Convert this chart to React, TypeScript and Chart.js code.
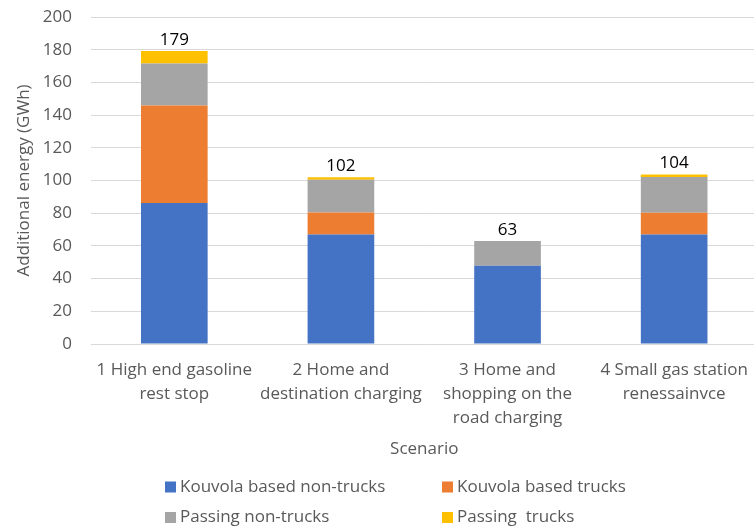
import React, { useEffect, useRef } from "react";
import { Chart, registerables } from "chart.js";

Chart.register(...registerables);

const categories: string[][] = [
  ["1 High end gasoline", "rest stop"],
  ["2 Home and", "destination charging"],
  ["3 Home and", "shopping on the", "road charging"],
  ["4 Small gas station", "renessainvce"],
];

const kouvolaNonTrucks = [86.3, 67.0, 47.8, 67.0];
const kouvolaTrucks = [59.5, 13.5, 0, 13.3];
const passingNonTrucks = [25.7, 19.9, 15.2, 21.8];
const passingTrucks = [7.7, 1.6, 0, 1.6];

const seriesNames = [
  "Kouvola based non-trucks",
  "Kouvola based trucks",
  "Passing non-trucks",
  "Passing  trucks",
];
const seriesColors = ["#4472C4", "#ED7D31", "#A5A5A5", "#FFC000"];

const yTitle = "Additional energy (GWh)";
const xTitle = "Scenario";

const FONT = "'Open Sans', 'Noto Sans', sans-serif";
const FONT_SIZE = 17;
const TEXT_GREY = "#595959";

const totalsPlugin = {
  id: "totals",
  afterDatasetsDraw(chart: any) {
    const { ctx } = chart;
    const x = chart.scales.x;
    const y = chart.scales.y;
    const n = chart.data.labels.length;
    ctx.save();
    ctx.font = `${FONT_SIZE}px ${FONT}`;
    ctx.fillStyle = "#000000";
    ctx.textAlign = "center";
    ctx.textBaseline = "alphabetic";
    for (let i = 0; i < n; i++) {
      let total = 0;
      chart.data.datasets.forEach((d: any) => (total += d.data[i]));
      const px = x.getPixelForTick(i);
      const py = y.getPixelForValue(total);
      ctx.fillText(String(Math.round(total)), px, py - 6);
    }
    ctx.restore();
  },
};

const legendPlugin = {
  id: "gridLegend",
  afterDraw(chart: any) {
    const { ctx } = chart;
    const ds = chart.data.datasets;
    const colX = [165, 442];
    const rowY = [chart.height - 45, chart.height - 14.5];
    const box = 11;
    ctx.save();
    ctx.font = `${FONT_SIZE}px ${FONT}`;
    ctx.textBaseline = "middle";
    ctx.textAlign = "left";
    ds.forEach((d: any, i: number) => {
      const cx = colX[i % 2];
      const cy = rowY[Math.floor(i / 2)];
      ctx.fillStyle = d.backgroundColor;
      ctx.fillRect(cx, cy - box / 2, box, box);
      ctx.fillStyle = TEXT_GREY;
      ctx.fillText(d.label, cx + box + 4, cy);
    });
    ctx.restore();
  },
};

export default function App() {
  const ref = useRef<HTMLCanvasElement | null>(null);

  useEffect(() => {
    if (!ref.current) return;
    const series = [kouvolaNonTrucks, kouvolaTrucks, passingNonTrucks, passingTrucks];
    const chart = new Chart(ref.current, {
      type: "bar",
      data: {
        labels: categories,
        datasets: series.map((data, i) => ({
          label: seriesNames[i],
          data,
          backgroundColor: seriesColors[i],
          borderWidth: 0,
          categoryPercentage: 1,
          barPercentage: 0.4,
        })),
      },
      options: {
        responsive: false,
        animation: false,
        devicePixelRatio: 1,
        layout: { padding: { top: 17, right: 1, left: 0, bottom: 0 } },
        plugins: {
          legend: { display: false },
          tooltip: { enabled: false },
        },
        scales: {
          x: {
            stacked: true,
            grid: { display: false, drawTicks: false },
            border: { display: false },
            ticks: {
              color: TEXT_GREY,
              font: { family: FONT, size: FONT_SIZE, lineHeight: 1.42 },
              padding: 14,
              maxRotation: 0,
              autoSkip: false,
            },
            title: {
              display: true,
              text: xTitle,
              color: TEXT_GREY,
              font: { family: FONT, size: FONT_SIZE, lineHeight: 1.25 },
              padding: { top: 0, bottom: 72 },
            },
            afterFit: (s: any) => {
              s.height = 188;
            },
          },
          y: {
            stacked: true,
            min: 0,
            max: 200,
            ticks: {
              stepSize: 20,
              color: TEXT_GREY,
              font: { family: FONT, size: FONT_SIZE },
              padding: 19,
            },
            grid: { color: "#D9D9D9", lineWidth: 1, drawTicks: false },
            border: { display: false },
            title: {
              display: true,
              text: yTitle,
              color: TEXT_GREY,
              font: { family: FONT, size: FONT_SIZE, lineHeight: 1.25 },
              padding: { top: 14, bottom: 0 },
            },
            afterFit: (s: any) => {
              s.width = 91;
              s.paddingTop = 0;
              s.paddingBottom = 0;
            },
          },
        },
      },
      plugins: [totalsPlugin, legendPlugin],
    });
    return () => chart.destroy();
  }, []);

  return (
    <div
      style={{
        position: "fixed",
        left: 0,
        top: 0,
        width: 754,
        height: 532,
        overflow: "hidden",
        background: "#ffffff",
      }}
    >
      <canvas ref={ref} width={762} height={532} style={{ width: 762, height: 532, display: "block" }} />
    </div>
  );
}
